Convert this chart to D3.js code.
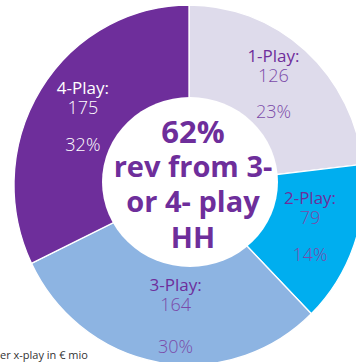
<!DOCTYPE html>
<html>
<head>
<meta charset="utf-8">
<script src="https://cdn.jsdelivr.net/npm/d3@7"></script>
<style>
  html, body { margin: 0; padding: 0; background: #fff; }
  svg { display: block; font-family: "Open Sans", sans-serif; }
</style>
</head>
<body>
<svg id="chart" width="356" height="362"></svg>
<script>
// Revenue per x-play household segment (€ mio)
const categories = ["1-Play", "2-Play", "3-Play", "4-Play"];
const revenue = [126, 79, 164, 175];
const shareLabels = ["23%", "14%", "30%", "32%"];
const colors = ["#dedbeb", "#00aeef", "#8db4e2", "#6e2e9b"];
const centerLines = ["62%", "rev from 3-", "or 4- play", "HH"];
const footnote = "er x-play in \u20ac mio";

const svg = d3.select("#chart");

// pie geometry (slightly taller than wide)
const cx = 189, cy = 185;
const rx = 175, ry = 180;
const yScale = ry / rx;

const pie = d3.pie().sort(null).value(d => d.value).startAngle(0).endAngle(2 * Math.PI);
const data = categories.map((c, i) => ({ cat: c, value: revenue[i], share: shareLabels[i], color: colors[i] }));
const arcs = pie(data);

const arc = d3.arc().innerRadius(0).outerRadius(rx);

const g = svg.append("g").attr("transform", `translate(${cx},${cy}) scale(1,${yScale})`);
g.selectAll("path.slice")
  .data(arcs)
  .enter().append("path")
  .attr("class", "slice")
  .attr("d", arc)
  .attr("fill", d => d.data.color)
  .attr("stroke", "#fff")
  .attr("stroke-width", 1.3)
  .attr("vector-effect", "non-scaling-stroke");

// white centre disc
svg.append("ellipse")
  .attr("cx", 190).attr("cy", 182)
  .attr("rx", 88).attr("ry", 85)
  .attr("fill", "#fff");

// slice labels placed around the ring
const labelArc = d3.arc().innerRadius(130).outerRadius(130);
const nudge = { "1-Play": [-2, -1], "2-Play": [-1.5, -3.5], "3-Play": [9, -4], "4-Play": [4, 2] };
const gapAfterValue = { "1-Play": 36, "2-Play": 37, "3-Play": 42, "4-Play": 37 };

arcs.forEach(a => {
  const [px, py] = labelArc.centroid(a);
  const n = nudge[a.data.cat];
  const x = cx + px + n[0];
  const y0 = cy + py * yScale + n[1];
  const dark = a.data.cat === "4-Play";
  const lblColor = dark ? "#ffffff" : "#6e2e9b";
  const valColor = dark ? "#ffffff" : "#7b4aa9";
  const t = svg.append("g").attr("text-anchor", "middle");
  t.append("text")
    .attr("x", x).attr("y", y0 - 22)
    .attr("font-size", 17).attr("font-weight", 500)
    .attr("fill", lblColor)
    .text(a.data.cat + ":");
  t.append("text")
    .attr("x", x).attr("y", y0 - 2)
    .attr("font-size", 18).attr("font-weight", 300)
    .attr("fill", valColor)
    .text(a.data.value);
  t.append("text")
    .attr("x", x).attr("y", y0 - 2 + gapAfterValue[a.data.cat])
    .attr("font-size", 18).attr("font-weight", 300)
    .attr("fill", valColor)
    .text(a.data.share);
});

// headline inside the disc
const centerY = [143, 177, 212, 248];
const centerSize = [31, 29, 29, 29];
svg.append("g").attr("text-anchor", "middle")
  .selectAll("text")
  .data(centerLines)
  .enter().append("text")
  .attr("x", 193)
  .attr("y", (d, i) => centerY[i])
  .attr("font-size", (d, i) => centerSize[i])
  .attr("font-weight", 700)
  .attr("fill", "#6e2e9b")
  .text(d => d);

// source note
svg.append("text")
  .attr("x", 0).attr("y", 359)
  .attr("font-size", 11)
  .attr("fill", "#333")
  .text(footnote);
</script>
</body>
</html>
